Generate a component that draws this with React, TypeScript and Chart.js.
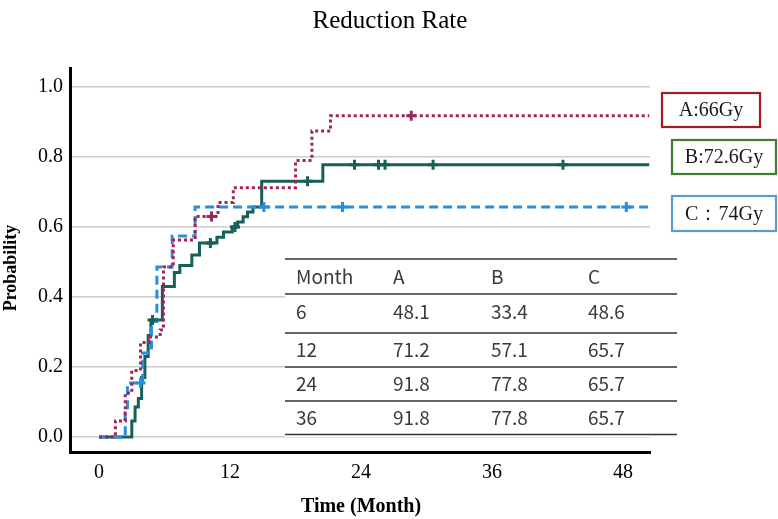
import React, { useEffect, useRef } from "react";
import { Chart, registerables } from "chart.js";

Chart.register(...registerables);

const TITLE = "Reduction Rate";
const X_TITLE = "Time (Month)";
const Y_TITLE = "Probability";
const X_TICKS = [0, 12, 24, 36, 48];
const Y_TICKS = [0, 0.2, 0.4, 0.6, 0.8, 1.0];

const A_TIMES = [0, 1.5, 2.4, 3.0, 3.8, 4.6, 5.6, 5.9, 6.8, 8.8, 10.9, 12.3, 18.0, 19.5, 21.2, 50.4];
const A_VALUES = [0, 0.046, 0.126, 0.19, 0.27, 0.286, 0.306, 0.486, 0.563, 0.63, 0.67, 0.712, 0.79, 0.874, 0.918, 0.918];
const A_CENSORED = [10.3, 28.6];

const B_TIMES = [0, 3.0, 3.3, 3.6, 3.9, 4.2, 4.5, 4.75, 5.8, 6.9, 7.4, 8.5, 9.2, 10.8, 11.4, 12.2, 12.7, 13.2, 13.6, 14.1, 14.9, 20.5, 50.4];
const B_VALUES = [0, 0.046, 0.086, 0.11, 0.17, 0.23, 0.29, 0.334, 0.43, 0.47, 0.49, 0.52, 0.554, 0.571, 0.586, 0.6, 0.614, 0.629, 0.643, 0.657, 0.731, 0.778, 0.778];
const B_CENSORED = [4.9, 10.2, 12.45, 19.1, 23.4, 25.6, 26.2, 30.6, 42.5];

const C_TIMES = [0, 2.4, 2.6, 4.0, 4.8, 5.3, 6.7, 8.8, 50.4];
const C_VALUES = [0, 0.07, 0.154, 0.24, 0.33, 0.486, 0.574, 0.657, 0.657];
const C_CENSORED = [3.8, 15.1, 22.3, 48.3];

const LEGEND_LABELS = ["A:66Gy", "B:72.6Gy", "C：74Gy"];
const TABLE_HEADER = ["Month", "A", "B", "C"];
const TABLE_MONTHS = ["6", "12", "24", "36"];
const TABLE_A = ["48.1", "71.2", "91.8", "91.8"];
const TABLE_B = ["33.4", "57.1", "77.8", "77.8"];
const TABLE_C = ["48.6", "65.7", "65.7", "65.7"];

const COLOR_A = "#a0245c";
const COLOR_B = "#17605a";
const COLOR_C = "#2a8fdb";

function stepValue(times: number[], vals: number[], t: number) {
  let v = vals[0];
  for (let i = 0; i < times.length; i++) {
    if (times[i] <= t) v = vals[i];
  }
  return v;
}

function curve(times: number[], vals: number[]) {
  return times.map((t, i) => ({ x: t, y: vals[i] }));
}

function censors(times: number[], vals: number[], cs: number[]) {
  return cs.map((t) => ({ x: t, y: stepValue(times, vals, t) }));
}

const overlayPlugin = {
  id: "overlay",
  beforeDatasetsDraw(chart: any) {
    const ctx = chart.ctx as CanvasRenderingContext2D;
    ctx.save();
    ctx.fillStyle = "#ffffff";
    ctx.fillRect(285, 259, 392, 178);
    ctx.strokeStyle = "#333333";
    ctx.lineWidth = 1.5;
    const lineYs = [259, 294, 333, 367, 401, 434.5];
    lineYs.forEach((y) => {
      ctx.beginPath();
      ctx.moveTo(285, y);
      ctx.lineTo(677, y);
      ctx.stroke();
    });
    ctx.fillStyle = "#3a3a3a";
    ctx.font = '19px "Noto Sans CJK JP", "Noto Sans", sans-serif';
    ctx.textBaseline = "middle";
    ctx.textAlign = "left";
    const colXs = [296, 393, 491, 588];
    const rowYs = [277, 312, 350, 384, 418];
    TABLE_HEADER.forEach((h, i) => ctx.fillText(h, colXs[i], rowYs[0]));
    for (let r = 0; r < TABLE_MONTHS.length; r++) {
      const row = [TABLE_MONTHS[r], TABLE_A[r], TABLE_B[r], TABLE_C[r]];
      row.forEach((v, i) => ctx.fillText(v, colXs[i], rowYs[r + 1]));
    }
    ctx.restore();
  },
  afterDraw(chart: any) {
    const ctx = chart.ctx as CanvasRenderingContext2D;
    ctx.save();
    ctx.fillStyle = "#000000";
    ctx.textAlign = "center";
    ctx.textBaseline = "middle";
    ctx.font = '25px "Liberation Serif", serif';
    ctx.fillText(TITLE, 390, 21);
    ctx.font = 'bold 20px "Liberation Serif", serif';
    ctx.fillText(X_TITLE, 361, 507);
    ctx.save();
    ctx.translate(11, 268);
    ctx.rotate(-Math.PI / 2);
    ctx.font = 'bold 18px "Liberation Serif", serif';
    ctx.fillText(Y_TITLE, 0, 0);
    ctx.restore();

    const boxes = [
      { x: 662, y: 93, w: 98, h: 34, c: "#a11d1f" },
      { x: 672, y: 140, w: 104, h: 34, c: "#3d7d2e" },
      { x: 672, y: 196, w: 104, h: 35, c: "#5b9bd5" },
    ];
    ctx.font = '20px "Liberation Serif", serif';
    boxes.forEach((b, i) => {
      ctx.fillStyle = "#ffffff";
      ctx.fillRect(b.x, b.y, b.w, b.h);
      ctx.strokeStyle = b.c;
      ctx.lineWidth = 2.2;
      ctx.strokeRect(b.x, b.y, b.w, b.h);
      ctx.fillStyle = "#1a1a1a";
      ctx.fillText(LEGEND_LABELS[i], b.x + b.w / 2, b.y + b.h / 2 + 1);
    });
    ctx.restore();
  },
};

export default function App() {
  const ref = useRef<HTMLCanvasElement | null>(null);
  useEffect(() => {
    if (!ref.current) return;
    const lineCommon = {
      stepped: "before" as const,
      pointRadius: 0,
      fill: false,
      borderWidth: 3,
      tension: 0,
    };
    const censorCommon = {
      type: "scatter" as const,
      showLine: false,
      pointStyle: "cross" as const,
      pointRadius: 5,
      pointBorderWidth: 3,
    };
    const chart = new Chart(ref.current, {
      type: "line",
      data: {
        datasets: [
          {
            ...lineCommon,
            label: "A",
            data: curve(A_TIMES, A_VALUES),
            borderColor: COLOR_A,
            borderDash: [3, 3],
            borderCapStyle: "butt",
            order: 1,
          },
          {
            ...censorCommon,
            label: "A censored",
            data: censors(A_TIMES, A_VALUES, A_CENSORED),
            borderColor: COLOR_A,
            backgroundColor: COLOR_A,
            order: 0,
          } as any,
          {
            ...lineCommon,
            label: "C",
            data: curve(C_TIMES, C_VALUES),
            borderColor: COLOR_C,
            borderDash: [9, 5],
            order: 2,
          },
          {
            ...censorCommon,
            label: "C censored",
            data: censors(C_TIMES, C_VALUES, C_CENSORED),
            borderColor: COLOR_C,
            backgroundColor: COLOR_C,
            order: 0,
          } as any,
          {
            ...lineCommon,
            label: "B",
            data: curve(B_TIMES, B_VALUES),
            borderColor: COLOR_B,
            order: 3,
          },
          {
            ...censorCommon,
            label: "B censored",
            data: censors(B_TIMES, B_VALUES, B_CENSORED),
            borderColor: COLOR_B,
            backgroundColor: COLOR_B,
            order: 0,
          } as any,
        ],
      },
      options: {
        animation: false,
        responsive: false,
        events: [],
        layout: { padding: { top: 68, right: 128, left: 0, bottom: 0 } },
        plugins: {
          legend: { display: false },
          tooltip: { enabled: false },
          title: { display: false },
        },
        scales: {
          x: {
            type: "linear",
            min: -2.66,
            max: 50.47,
            afterBuildTicks: (s: any) => {
              s.ticks = X_TICKS.map((v) => ({ value: v }));
            },
            afterFit: (s: any) => {
              s.height = 67;
            },
            grid: { display: false, drawTicks: false },
            border: { display: true, color: "#000000", width: 3 },
            ticks: {
              padding: 9,
              color: "#000000",
              font: { family: '"Liberation Serif", serif', size: 20 },
              maxRotation: 0,
            },
          },
          y: {
            type: "linear",
            min: -0.0429,
            max: 1.0543,
            afterBuildTicks: (s: any) => {
              s.ticks = Y_TICKS.map((v) => ({ value: v }));
            },
            afterFit: (s: any) => {
              s.width = 70;
            },
            grid: { color: "#cccccc", lineWidth: 1.5, drawTicks: false },
            border: { display: true, color: "#000000", width: 3 },
            ticks: {
              padding: 7,
              color: "#000000",
              font: { family: '"Liberation Serif", serif', size: 20 },
              callback: (v: any) => Number(v).toFixed(1),
            },
          },
        },
      },
      plugins: [overlayPlugin],
    } as any);
    return () => chart.destroy();
  }, []);
  return (
    <div style={{ position: "fixed", left: 0, top: 0, width: 778, height: 519, background: "#ffffff" }}>
      <canvas ref={ref} width={778} height={519} style={{ display: "block", width: 778, height: 519 }} />
    </div>
  );
}
